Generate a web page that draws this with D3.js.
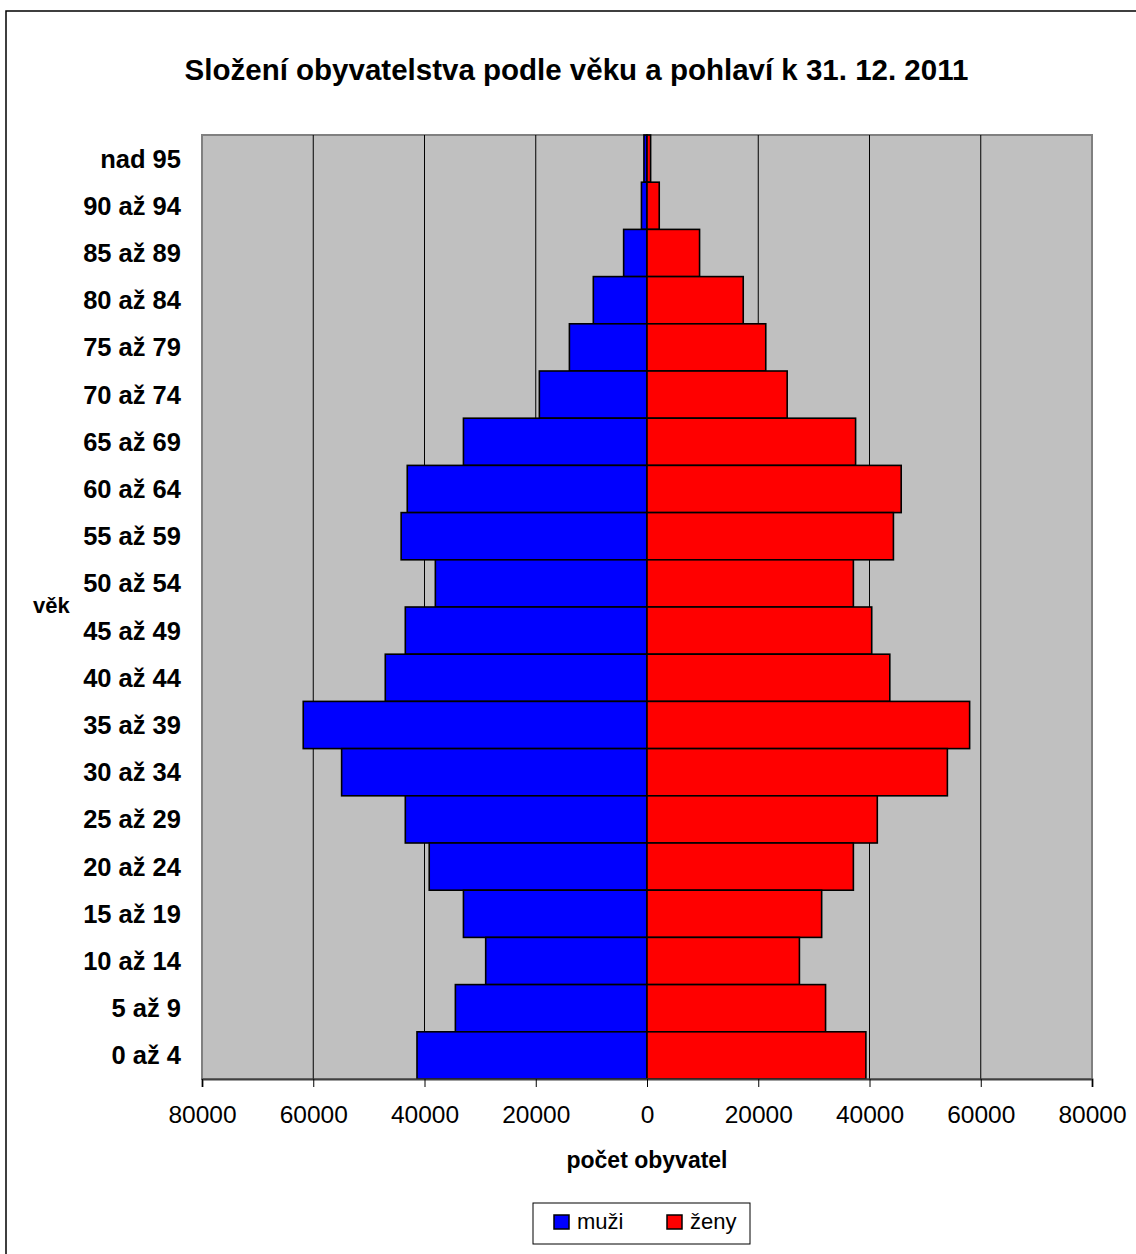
<!DOCTYPE html>
<html>
<head>
<meta charset="utf-8">
<script src="https://cdn.jsdelivr.net/npm/d3@7"></script>
<style>
  body { margin: 0; background: #fff; }
  text { font-family: "Liberation Sans", Arial, sans-serif; }
</style>
</head>
<body>
<div id="chart"></div>
<script>
(() => {
"use strict";

const WIDTH = 1136, HEIGHT = 1254;

// age groups, top to bottom
const ageGroups = ["nad 95", "90 až 94", "85 až 89", "80 až 84", "75 až 79", "70 až 74",
  "65 až 69", "60 až 64", "55 až 59", "50 až 54", "45 až 49", "40 až 44", "35 až 39",
  "30 až 34", "25 až 29", "20 až 24", "15 až 19", "10 až 14", "5 až 9", "0 až 4"];
const men = [550, 1000, 4200, 9650, 13950, 19350, 33000, 43100, 44200, 38050, 43450,
  47050, 61800, 54900, 43450, 39150, 33000, 29000, 34450, 41350];
const women = [650, 2200, 9450, 17300, 21350, 25200, 37500, 45700, 44300, 37100, 40400,
  43650, 58000, 54000, 41400, 37100, 31400, 27400, 32100, 39350];
const xTicks = [-80000, -60000, -40000, -20000, 0, 20000, 40000, 60000, 80000];
const legendItems = [{ name: "muži", color: "#0000ff" }, { name: "ženy", color: "#ff0000" }];

const plot = { left: 202, right: 1092, top: 135, bottom: 1079 };

let svg = d3.select("#chart").append("svg")
  .attr("width", WIDTH)
  .attr("height", HEIGHT);

// outer chart frame (runs off the right/bottom of the page)
svg.append("rect")
  .attr("x", 6).attr("y", 11)
  .attr("width", 1300).attr("height", 1400)
  .attr("fill", "#fff")
  .attr("stroke", "#000")
  .attr("stroke-width", 1.5);

let xScale = d3.scaleLinear()
  .domain([-80000, 80000])
  .range([plot.left, plot.right]);
let yScale = d3.scaleBand()
  .domain(ageGroups)
  .range([plot.top, plot.bottom])
  .padding(0);

// plot background
svg.append("rect")
  .attr("x", plot.left).attr("y", plot.top)
  .attr("width", plot.right - plot.left)
  .attr("height", plot.bottom - plot.top)
  .attr("fill", "#c0c0c0")
  .attr("stroke", "#808080")
  .attr("stroke-width", 2);

// gridlines
svg.append("g")
  .selectAll("line")
  .data(xTicks.filter(d => Math.abs(d) !== 80000 && d !== 0))
  .join("line")
  .attr("x1", d => xScale(d)).attr("x2", d => xScale(d))
  .attr("y1", plot.top).attr("y2", plot.bottom)
  .attr("stroke", "#000")
  .attr("stroke-width", 1);

// bars
let rows = ageGroups.map((g, i) => ({ group: g, men: men[i], women: women[i] }));

svg.append("g")
  .selectAll("rect")
  .data(rows)
  .join("rect")
  .attr("x", d => xScale(-d.men))
  .attr("y", d => yScale(d.group))
  .attr("width", d => xScale(0) - xScale(-d.men))
  .attr("height", yScale.bandwidth())
  .attr("fill", "#0000ff")
  .attr("stroke", "#000")
  .attr("stroke-width", 1.6);

svg.append("g")
  .selectAll("rect")
  .data(rows)
  .join("rect")
  .attr("x", xScale(0))
  .attr("y", d => yScale(d.group))
  .attr("width", d => xScale(d.women) - xScale(0))
  .attr("height", yScale.bandwidth())
  .attr("fill", "#ff0000")
  .attr("stroke", "#000")
  .attr("stroke-width", 1.6);

// x axis
let xAxis = d3.axisBottom(xScale)
  .tickValues(xTicks)
  .tickSize(8)
  .tickFormat(d => String(Math.abs(d)));

let gx = svg.append("g")
  .attr("transform", `translate(0,${plot.bottom})`)
  .call(xAxis);
gx.select(".domain").attr("stroke", "#404040").attr("stroke-width", 2);
gx.selectAll(".tick line").attr("stroke", "#000");
gx.selectAll(".tick text")
  .attr("y", 44)
  .attr("dy", 0)
  .attr("fill", "#000")
  .style("font-family", "'Liberation Sans', Arial, sans-serif")
  .style("font-size", "24.5px");

// y labels
svg.append("g")
  .selectAll("text")
  .data(ageGroups)
  .join("text")
  .attr("x", 181)
  .attr("y", d => yScale(d) + yScale.bandwidth() / 2 + 9)
  .attr("text-anchor", "end")
  .style("font-size", "25.5px")
  .style("font-weight", "bold")
  .text(d => d);

// titles
svg.append("text")
  .attr("x", 576.5).attr("y", 80)
  .attr("text-anchor", "middle")
  .style("font-size", "29.5px")
  .style("font-weight", "bold")
  .text("Složení obyvatelstva podle věku a pohlaví k 31. 12. 2011");

svg.append("text")
  .attr("x", xScale(0)).attr("y", 1168)
  .attr("text-anchor", "middle")
  .style("font-size", "23px")
  .style("font-weight", "bold")
  .text("počet obyvatel");

svg.append("text")
  .attr("x", 33).attr("y", 613)
  .style("font-size", "22px")
  .style("font-weight", "bold")
  .text("věk");

// legend
let legend = svg.append("g");
legend.append("rect")
  .attr("x", 533).attr("y", 1203)
  .attr("width", 217).attr("height", 41)
  .attr("fill", "#fff")
  .attr("stroke", "#000")
  .attr("stroke-width", 1);

let items = legend.selectAll("g")
  .data(legendItems)
  .join("g")
  .attr("transform", (d, i) => `translate(${554 + i * 113},1215)`);
items.append("rect")
  .attr("width", 15).attr("height", 14)
  .attr("fill", d => d.color)
  .attr("stroke", "#000")
  .attr("stroke-width", 1.5);
items.append("text")
  .attr("x", 23).attr("y", 14)
  .style("font-size", "22px")
  .text(d => d.name);
})();
</script>
</body>
</html>
